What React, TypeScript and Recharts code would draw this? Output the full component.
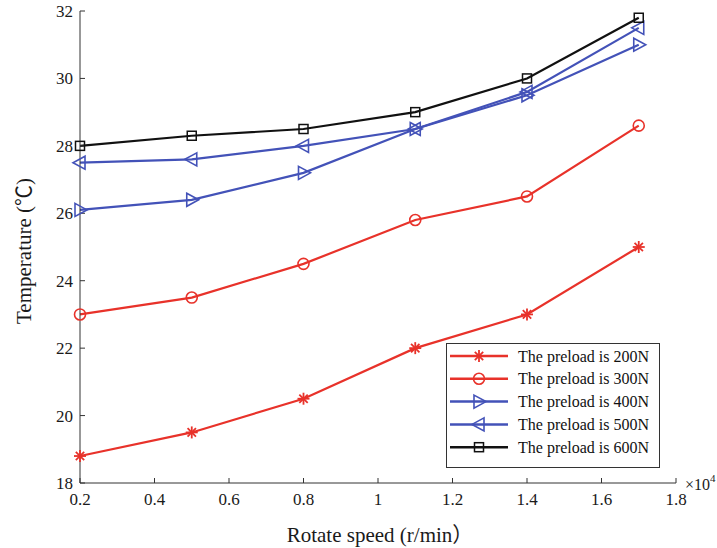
import { LineChart, Line, XAxis, YAxis, Legend } from 'recharts';

const speeds = [0.2, 0.5, 0.8, 1.1, 1.4, 1.7];
const preload200 = [18.8, 19.5, 20.5, 22.0, 23.0, 25.0];
const preload300 = [23.0, 23.5, 24.5, 25.8, 26.5, 28.6];
const preload400 = [26.1, 26.4, 27.2, 28.5, 29.5, 31.0];
const preload500 = [27.5, 27.6, 28.0, 28.5, 29.6, 31.5];
const preload600 = [28.0, 28.3, 28.5, 29.0, 30.0, 31.8];

const xTicks = [0.2, 0.4, 0.6, 0.8, 1.0, 1.2, 1.4, 1.6, 1.8];
const yTicks = [18, 20, 22, 24, 26, 28, 30, 32];

const RED = '#e8322a';
const BLUE = '#4352b8';
const BLACK = '#111111';
const FONT = '"Liberation Serif", "Noto Sans CJK SC", serif';
const CJK = '"Noto Sans CJK SC", sans-serif';

const series = [
  { key: 'p200', name: 'The preload is 200N', color: RED, marker: 'star' },
  { key: 'p300', name: 'The preload is 300N', color: RED, marker: 'circle' },
  { key: 'p400', name: 'The preload is 400N', color: BLUE, marker: 'right' },
  { key: 'p500', name: 'The preload is 500N', color: BLUE, marker: 'left' },
  { key: 'p600', name: 'The preload is 600N', color: BLACK, marker: 'square' },
];

const data = speeds.map((s, i) => ({
  speed: s,
  p200: preload200[i],
  p300: preload300[i],
  p400: preload400[i],
  p500: preload500[i],
  p600: preload600[i],
}));

function Marker({ kind, cx, cy, color }: { kind: string; cx: number; cy: number; color: string }) {
  if (kind === 'star') {
    const r = 6;
    return (
      <g stroke={color} strokeWidth={1.8}>
        <line x1={cx - r} y1={cy} x2={cx + r} y2={cy} />
        <line x1={cx} y1={cy - r} x2={cx} y2={cy + r} />
        <line x1={cx - r * 0.7} y1={cy - r * 0.7} x2={cx + r * 0.7} y2={cy + r * 0.7} />
        <line x1={cx - r * 0.7} y1={cy + r * 0.7} x2={cx + r * 0.7} y2={cy - r * 0.7} />
      </g>
    );
  }
  if (kind === 'circle') {
    return <circle cx={cx} cy={cy} r={5.5} fill="none" stroke={color} strokeWidth={1.6} />;
  }
  if (kind === 'right') {
    return (
      <polygon
        points={`${cx - 5},${cy - 6.5} ${cx + 7},${cy} ${cx - 5},${cy + 6.5}`}
        fill="none"
        stroke={color}
        strokeWidth={1.6}
      />
    );
  }
  if (kind === 'left') {
    return (
      <polygon
        points={`${cx + 5},${cy - 6.5} ${cx - 7},${cy} ${cx + 5},${cy + 6.5}`}
        fill="none"
        stroke={color}
        strokeWidth={1.6}
      />
    );
  }
  return <rect x={cx - 4.5} y={cy - 4.5} width={9} height={9} fill="none" stroke={color} strokeWidth={1.5} />;
}

const fmt = (v: number) => String(+v.toFixed(1));

function LegendBox() {
  const rowH = 22.8;
  return (
    <svg width={214} height={125} style={{ display: 'block' }}>
      <rect x={0.5} y={0.5} width={213} height={124} fill="#fff" stroke="#333" strokeWidth={1} />
      {series.map((s, i) => {
        const y = 13 + i * rowH;
        return (
          <g key={s.key}>
            <line x1={4} y1={y} x2={62} y2={y} stroke={s.color} strokeWidth={2.5} />
            <Marker kind={s.marker} cx={33} cy={y} color={s.color} />
            <text x={72} y={y} dy="0.35em" fontFamily={FONT} fontSize={16} fill="#111">
              {s.name}
            </text>
          </g>
        );
      })}
    </svg>
  );
}

export default function App() {
  return (
    <div style={{ position: 'absolute', left: 0, top: 0, background: '#fff', fontFamily: FONT }}>
      <LineChart width={717} height={548} data={data} margin={{ top: 11, right: 41, bottom: 0, left: 0 }}>
        <XAxis
          xAxisId="bottom"
          dataKey="speed"
          type="number"
          domain={[0.2, 1.8]}
          ticks={xTicks}
          tickFormatter={fmt}
          height={65}
          stroke="#333"
          tickSize={-5}
          tickMargin={15}
          tick={{ fill: '#1a1a1a', fontSize: 17, fontFamily: FONT }}
          label={(p: any) => {
            const vb = p.viewBox;
            return (
              <g>
                <text x={vb.x + vb.width / 2 + 2} y={vb.y + 59} textAnchor="middle" fontFamily={FONT} fontSize={21} fill="#1a1a1a">
                  Rotate speed (r/min<tspan fontFamily={CJK}>）</tspan>
                </text>
                <text x={vb.x + vb.width + 9} y={vb.y + 7} fontFamily={FONT} fontSize={16} fill="#1a1a1a">
                  ×10
                  <tspan fontSize={11} dy={-8}>4</tspan>
                </text>
              </g>
            );
          }}
        />
        <XAxis
          xAxisId="top"
          orientation="top"
          dataKey="speed"
          type="number"
          domain={[0.2, 1.8]}
          ticks={xTicks}
          height={0}
          stroke="#333"
          tickSize={-5}
          tickFormatter={() => ''}
        />
        <YAxis
          yAxisId="left"
          type="number"
          domain={[18, 32]}
          ticks={yTicks}
          width={80}
          stroke="#333"
          tickSize={-5}
          tickMargin={12}
          tick={{ fill: '#1a1a1a', fontSize: 17, fontFamily: FONT }}
          label={(p: any) => {
            const vb = p.viewBox;
            const cx = vb.x + 24;
            const cy = vb.y + vb.height / 2 + 4;
            return (
              <text
                x={cx}
                y={cy}
                dy="0.35em"
                textAnchor="middle"
                transform={`rotate(-90, ${cx}, ${cy})`}
                fontFamily={FONT}
                fontSize={21}
                fill="#1a1a1a"
              >
                Temperature (<tspan fontFamily={CJK}>℃</tspan>)
              </text>
            );
          }}
        />
        <YAxis
          yAxisId="right"
          orientation="right"
          type="number"
          domain={[18, 32]}
          ticks={yTicks}
          width={0}
          stroke="#333"
          tickSize={-5}
          tickFormatter={() => ''}
        />
        <Legend
          layout="vertical"
          align="center"
          verticalAlign="middle"
          content={() => <LegendBox />}
          wrapperStyle={{ position: 'absolute', left: 446, top: 343, width: 214, height: 125 }}
        />
        {series.map((s) => (
          <Line
            key={s.key}
            xAxisId="bottom"
            yAxisId="left"
            type="linear"
            dataKey={s.key}
            name={s.name}
            stroke={s.color}
            strokeWidth={2.2}
            isAnimationActive={false}
            dot={(p: any) => (
              <Marker key={`${s.key}-${p.index}`} kind={s.marker} cx={p.cx} cy={p.cy} color={s.color} />
            )}
            activeDot={false}
          />
        ))}
      </LineChart>
    </div>
  );
}
